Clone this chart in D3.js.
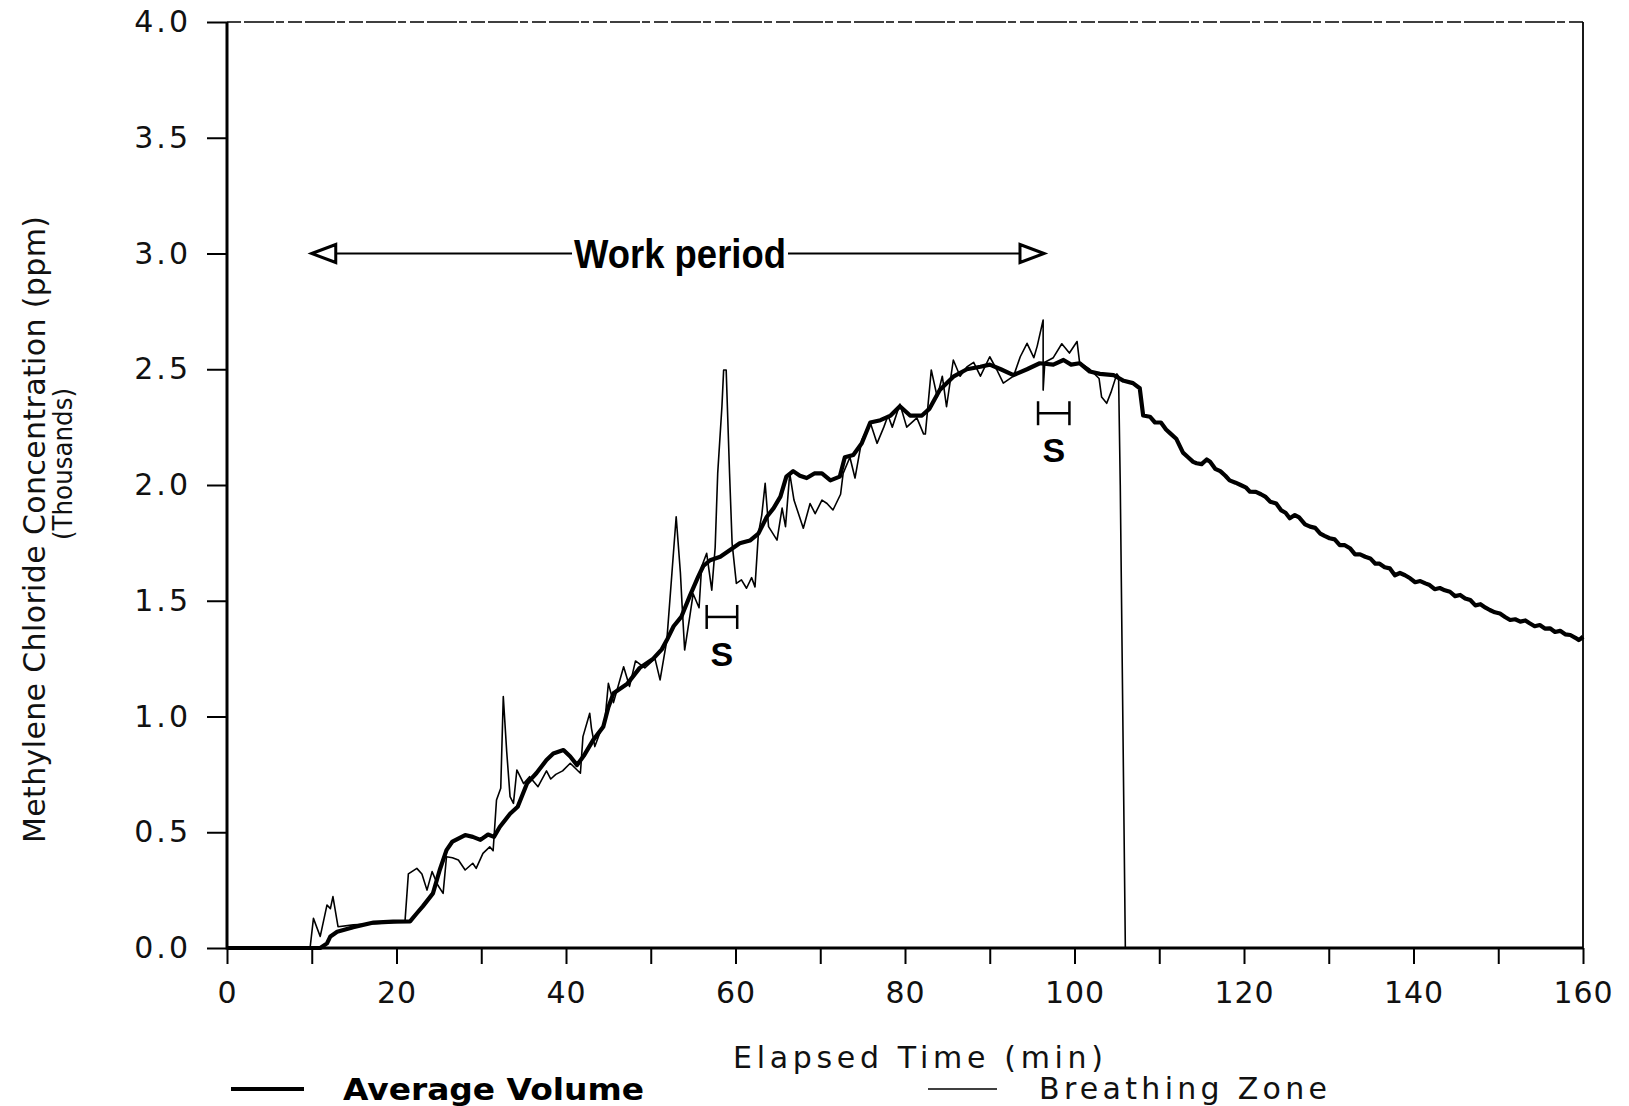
<!DOCTYPE html>
<html>
<head>
<meta charset="utf-8">
<script src="https://cdn.jsdelivr.net/npm/d3@7"></script>
<style>
  body { margin: 0; background: #fff; }
  svg { display: block; }
</style>
</head>
<body>
<svg id="graphique" width="1629" height="1106"></svg>
<script>
// elapsed time (min), concentration (thousands of ppm)
var averageVolume = [
  [0,0],[11,0],[11.8,0.02],[12.2,0.05],[13.0,0.07],[14.9,0.09],[17.3,0.11],[19.6,0.114],[21.6,0.115],
  [22.4,0.15],[23.1,0.18],[24.3,0.236],[25.1,0.337],[25.9,0.423],[26.6,0.46],[28.1,0.488],[29.0,0.48],
  [29.9,0.467],[30.8,0.49],[31.5,0.48],[32.2,0.524],[33.4,0.58],[34.3,0.61],[35.4,0.711],[36.5,0.755],
  [37.7,0.812],[38.5,0.84],[39.7,0.855],[40.5,0.827],[41.3,0.79],[42.1,0.83],[43.2,0.898],[44.4,0.956],
  [45.0,1.04],[45.6,1.10],[47.2,1.14],[48.7,1.21],[50.3,1.25],[51.3,1.29],[51.9,1.33],[52.7,1.39],
  [53.6,1.43],[54.6,1.52],[55.6,1.604],[56.2,1.65],[57.0,1.675],[58.2,1.69],[59.4,1.72],[60.5,1.748],
  [61.7,1.76],[62.7,1.79],[63.7,1.863],[64.5,1.9],[65.3,1.95],[66.0,2.036],[66.8,2.06],[67.6,2.04],
  [68.4,2.03],[69.3,2.05],[70.2,2.05],[71.2,2.02],[72.3,2.036],[72.9,2.12],[73.9,2.13],[74.9,2.18],
  [75.9,2.27],[77.1,2.28],[78.3,2.30],[79.4,2.34],[80.6,2.30],[82.0,2.30],[82.9,2.33],[84.1,2.41],
  [85.7,2.468],[87.3,2.50],[88.9,2.511],[90.0,2.52],[91.3,2.50],[92.8,2.475],[94.4,2.50],[95.9,2.526],
  [97.5,2.52],[98.7,2.54],[99.6,2.52],[100.6,2.526],[101.8,2.49],[103.0,2.48],[104.6,2.475],[105.8,2.45],
  [106.9,2.44],[107.7,2.418],[108.1,2.30],[108.9,2.295],[109.5,2.27],[110.2,2.27],[110.8,2.24],[111.3,2.223],
  [112.0,2.20],[112.8,2.14],[113.4,2.12],[114.0,2.10],[114.4,2.094],[115.0,2.09],[115.6,2.11],[116.0,2.10],
  [116.6,2.07],[117.2,2.06],[117.8,2.04],[118.3,2.02],[119.0,2.01],[119.6,2.00],[120.2,1.99],[120.7,1.971],
  [121.4,1.97],[122.0,1.96],[122.5,1.95],[123.1,1.928],[123.8,1.92],[124.4,1.89],[124.9,1.88],[125.4,1.856],
  [126.0,1.87],[126.5,1.86],[127.2,1.83],[127.8,1.82],[128.4,1.815],[129.0,1.79],[129.5,1.78],[130.1,1.77],
  [130.7,1.765],[131.3,1.74],[131.9,1.74],[132.5,1.727],[133.1,1.70],[133.7,1.70],[134.3,1.69],[134.9,1.683],
  [135.5,1.66],[136.0,1.66],[136.6,1.645],[137.2,1.64],[137.8,1.61],[138.4,1.62],[139.0,1.61],[139.6,1.597],
  [140.2,1.58],[140.8,1.585],[141.4,1.575],[141.9,1.568],[142.5,1.55],[143.1,1.555],[143.7,1.545],[144.3,1.539],
  [144.9,1.52],[145.5,1.525],[146.1,1.51],[146.7,1.503],[147.3,1.48],[147.9,1.485],[148.5,1.47],[149.0,1.46],
  [149.6,1.45],[150.2,1.445],[150.8,1.43],[151.4,1.417],[152.0,1.42],[152.6,1.41],[153.2,1.415],[153.7,1.403],
  [154.3,1.39],[154.9,1.395],[155.5,1.38],[156.1,1.381],[156.7,1.365],[157.3,1.37],[157.9,1.355],[158.5,1.352],
  [159.1,1.34],[159.5,1.33],[159.8,1.338],[160,1.345]
];

var breathingZone = [
  [0,0],[9.8,0],[10.2,0.128],[11.0,0.05],[11.8,0.186],[12.2,0.17],[12.5,0.222],[13.1,0.092],[14.9,0.10],
  [17.3,0.105],[19.6,0.11],[21.0,0.114],[21.4,0.32],[22.4,0.344],[23.0,0.32],[23.6,0.25],[24.2,0.33],
  [24.9,0.27],[25.5,0.236],[25.9,0.394],[26.6,0.39],[27.3,0.38],[28.1,0.337],[29.0,0.366],[29.4,0.344],
  [30.2,0.409],[31.0,0.437],[31.4,0.42],[31.8,0.639],[32.3,0.69],[32.6,1.086],[33.0,0.85],[33.4,0.654],
  [33.8,0.625],[34.2,0.769],[35.0,0.71],[35.7,0.74],[36.7,0.697],[37.7,0.765],[38.2,0.73],[38.8,0.75],
  [39.6,0.765],[40.5,0.798],[41.7,0.755],[42.0,0.913],[42.8,1.014],[43.0,0.95],[43.4,0.87],[44.0,0.93],
  [44.6,0.985],[45.0,1.143],[45.6,1.06],[46.8,1.215],[47.5,1.13],[48.2,1.24],[49.3,1.21],[50.5,1.25],
  [51.1,1.158],[51.9,1.33],[52.5,1.62],[53.0,1.863],[53.5,1.62],[53.7,1.48],[54.0,1.287],[54.6,1.43],
  [55.0,1.53],[55.7,1.47],[56.0,1.647],[56.6,1.705],[57.2,1.546],[57.6,1.73],[57.9,2.05],[58.4,2.34],
  [58.6,2.497],[58.9,2.497],[59.3,2.05],[59.6,1.748],[60.1,1.575],[60.7,1.59],[61.3,1.554],[61.9,1.6],
  [62.3,1.56],[62.7,1.79],[63.1,1.87],[63.5,2.007],[63.9,1.82],[64.9,1.762],[65.5,1.9],[65.9,1.82],
  [66.4,2.05],[66.9,1.935],[68.0,1.813],[68.8,1.92],[69.4,1.876],[70.2,1.935],[70.8,1.92],[71.5,1.892],
  [72.4,1.96],[72.7,2.05],[73.5,2.12],[74.1,2.03],[74.9,2.194],[75.9,2.27],[76.7,2.18],[77.5,2.25],
  [78.0,2.3],[78.5,2.25],[79.4,2.35],[80.2,2.25],[81.4,2.29],[82.2,2.22],[82.4,2.22],[83.1,2.497],
  [83.8,2.38],[84.4,2.47],[84.9,2.338],[85.7,2.54],[86.5,2.47],[87.3,2.51],[88.1,2.53],[88.9,2.47],
  [90.0,2.554],[90.8,2.50],[91.6,2.44],[92.8,2.47],[93.6,2.554],[94.4,2.612],[95.2,2.55],[95.6,2.6],
  [96.3,2.713],[96.3,2.41],[96.5,2.53],[97.5,2.55],[98.5,2.61],[99.4,2.57],[100.3,2.62],[100.6,2.53],
  [101.8,2.50],[102.9,2.46],[103.2,2.38],[103.8,2.353],[104.3,2.4],[105.0,2.48],[105.2,2.47],[105.4,2.0],
  [106.0,0],[160,0]
];

var xTicks = [0,10,20,30,40,50,60,70,80,90,100,110,120,130,140,150,160];
var xTickLabels = [0,20,40,60,80,100,120,140,160];
var yTicks = [0,0.5,1.0,1.5,2.0,2.5,3.0,3.5,4.0];

// work period arrow and sampling marks (S)
var workPeriod = [10, 96.4];
var workLevel = 3.0;
var sampleMarks = [
  {start: 56.6, end: 60.2, level: 1.43},
  {start: 95.7, end: 99.4, level: 2.31}
];

var graphique = d3.select("#graphique");
var LEFT = 227, RIGHT = 1583, TOP = 22, BOTTOM = 948;

var xScale = d3.scaleLinear().domain([0,160]).range([LEFT, RIGHT]);
var yScale = d3.scaleLinear().domain([0,4]).range([BOTTOM, TOP]);

var tickFont = "'DejaVu Sans', sans-serif";

//// axes
var xAxis = d3.axisBottom(xScale)
  .tickValues(xTicks)
  .tickSize(16)
  .tickPadding(18)
  .tickFormat(function(d){ return xTickLabels.indexOf(d) >= 0 ? d : ""; });

var gx = graphique.append("g")
  .attr("transform", "translate(0," + BOTTOM + ")")
  .call(xAxis);
gx.select(".domain").remove();
gx.selectAll("line").attr("stroke", "#000").attr("stroke-width", 2);
gx.selectAll("text")
  .attr("font-family", tickFont)
  .attr("font-size", 30)
  .attr("letter-spacing", 1)
  .attr("fill", "#111");

var yAxis = d3.axisLeft(yScale)
  .tickValues(yTicks)
  .tickSize(20)
  .tickPadding(16)
  .tickFormat(d3.format(".1f"));

var gy = graphique.append("g")
  .attr("transform", "translate(" + LEFT + ",0)")
  .call(yAxis);
gy.select(".domain").remove();
gy.selectAll("line").attr("stroke", "#000").attr("stroke-width", 2);
gy.selectAll("text")
  .attr("font-family", tickFont)
  .attr("font-size", 30)
  .attr("letter-spacing", 3)
  .attr("fill", "#111");

//// frame
graphique.append("path")
  .attr("d", "M" + LEFT + "," + TOP + "H" + RIGHT)
  .attr("fill", "none").attr("stroke", "#000").attr("stroke-width", 1.6)
  .attr("stroke-dasharray", "14,3,30,2,8,4");
graphique.append("path")
  .attr("d", "M" + RIGHT + "," + TOP + "V" + BOTTOM)
  .attr("fill", "none").attr("stroke", "#000").attr("stroke-width", 1.8);
graphique.append("path")
  .attr("d", "M" + LEFT + "," + TOP + "V" + BOTTOM + "H" + RIGHT)
  .attr("fill", "none").attr("stroke", "#000").attr("stroke-width", 3);

//// courbes
var line = d3.line()
  .x(function(d){ return xScale(d[0]); })
  .y(function(d){ return yScale(d[1]); });

graphique.append("path")
  .attr("d", line(breathingZone))
  .attr("stroke", "#000")
  .attr("stroke-width", 1.6)
  .attr("stroke-linejoin", "round")
  .attr("fill", "none");

graphique.append("path")
  .attr("d", line(averageVolume))
  .attr("stroke", "#000")
  .attr("stroke-width", 4.2)
  .attr("stroke-linejoin", "round")
  .attr("fill", "none");

//// work period
var wy = yScale(workLevel);
var wx0 = xScale(workPeriod[0]), wx1 = xScale(workPeriod[1]);
var textCenter = 680, textHalf = 106;
graphique.append("line")
  .attr("x1", wx0 + 22).attr("x2", textCenter - textHalf - 2)
  .attr("y1", wy).attr("y2", wy)
  .attr("stroke", "#000").attr("stroke-width", 2.2);
graphique.append("line")
  .attr("x1", textCenter + textHalf + 2).attr("x2", wx1 - 22)
  .attr("y1", wy).attr("y2", wy)
  .attr("stroke", "#000").attr("stroke-width", 2.2);
graphique.append("path")
  .attr("d", "M" + wx0 + "," + wy + "L" + (wx0 + 24) + "," + (wy - 9) + "L" + (wx0 + 24) + "," + (wy + 9) + "Z")
  .attr("fill", "#fff").attr("stroke", "#000").attr("stroke-width", 3);
graphique.append("path")
  .attr("d", "M" + wx1 + "," + wy + "L" + (wx1 - 24) + "," + (wy - 9) + "L" + (wx1 - 24) + "," + (wy + 9) + "Z")
  .attr("fill", "#fff").attr("stroke", "#000").attr("stroke-width", 3);
graphique.append("text")
  .attr("x", textCenter - textHalf).attr("y", wy + 14)
  .attr("textLength", textHalf * 2).attr("lengthAdjust", "spacingAndGlyphs")
  .attr("font-family", "'Liberation Sans Narrow', 'Liberation Sans', sans-serif")
  .attr("font-weight", "bold").attr("font-size", 40)
  .text("Work period");

//// S marks
sampleMarks.forEach(function(m){
  var x0 = xScale(m.start), x1 = xScale(m.end), yy = yScale(m.level);
  var g = graphique.append("g").attr("stroke", "#000").attr("stroke-width", 2.5);
  g.append("line").attr("x1", x0).attr("x2", x1).attr("y1", yy).attr("y2", yy);
  g.append("line").attr("x1", x0).attr("x2", x0).attr("y1", yy - 12).attr("y2", yy + 12);
  g.append("line").attr("x1", x1).attr("x2", x1).attr("y1", yy - 12).attr("y2", yy + 12);
  graphique.append("text")
    .attr("x", (x0 + x1) / 2).attr("y", yy + 49)
    .attr("text-anchor", "middle")
    .attr("font-family", "'Liberation Sans', sans-serif")
    .attr("font-weight", "bold").attr("font-size", 34)
    .text("S");
});

//// titres
graphique.append("text")
  .attr("x", 733).attr("y", 1068)
  .attr("textLength", 370).attr("lengthAdjust", "spacing")
  .attr("font-family", tickFont).attr("font-size", 30).attr("fill", "#111")
  .text("Elapsed Time (min)");

graphique.append("text")
  .attr("transform", "translate(45,843) rotate(-90)")
  .attr("textLength", 627).attr("lengthAdjust", "spacing")
  .attr("font-family", tickFont).attr("font-size", 30).attr("fill", "#111")
  .text("Methylene Chloride Concentration (ppm)");
graphique.append("text")
  .attr("transform", "translate(72,540) rotate(-90)")
  .attr("textLength", 152).attr("lengthAdjust", "spacingAndGlyphs")
  .attr("font-family", tickFont).attr("font-size", 27).attr("fill", "#111")
  .text("(Thousands)");

//// legende
graphique.append("line")
  .attr("x1", 231).attr("x2", 304).attr("y1", 1089).attr("y2", 1089)
  .attr("stroke", "#000").attr("stroke-width", 4.2);
graphique.append("text")
  .attr("x", 343).attr("y", 1100)
  .attr("textLength", 301).attr("lengthAdjust", "spacingAndGlyphs")
  .attr("font-family", tickFont).attr("font-weight", "bold").attr("font-size", 30)
  .text("Average Volume");
graphique.append("line")
  .attr("x1", 928).attr("x2", 997).attr("y1", 1089).attr("y2", 1089)
  .attr("stroke", "#000").attr("stroke-width", 1.4);
graphique.append("text")
  .attr("x", 1039).attr("y", 1099)
  .attr("textLength", 288).attr("lengthAdjust", "spacing")
  .attr("font-family", tickFont).attr("font-size", 30).attr("fill", "#111")
  .text("Breathing Zone");
</script>
</body>
</html>
